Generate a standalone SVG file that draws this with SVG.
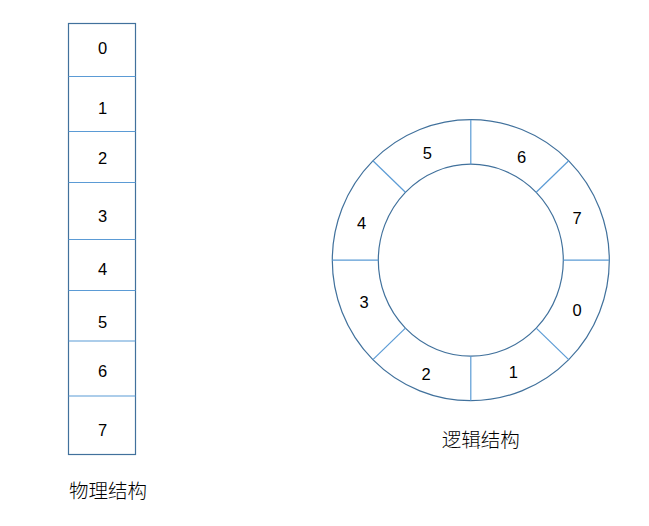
<svg xmlns="http://www.w3.org/2000/svg" width="649" height="526" viewBox="0 0 649 526">
<style>
.num{font-family:"Liberation Sans",Arial,sans-serif;font-size:16.5px;fill:#000;text-anchor:middle}
.lbl{font-family:"Noto Sans CJK SC","Liberation Sans",sans-serif;font-size:19.5px;font-weight:300;fill:#000;text-anchor:middle}
.outl{fill:none;stroke:#41719C;stroke-width:1.2}
.div{fill:none;stroke:#5B9BD5;stroke-width:1.2}
</style>
<rect width="649" height="526" fill="#fff"/>
<g id="physical">
<rect class="outl" x="68.5" y="23.5" width="67" height="431"/>
<g class="div-lines">
<line class="div" x1="68.5" y1="76.5" x2="135.5" y2="76.5"/>
<line class="div" x1="68.5" y1="131.5" x2="135.5" y2="131.5"/>
<line class="div" x1="68.5" y1="182.5" x2="135.5" y2="182.5"/>
<line class="div" x1="68.5" y1="239.5" x2="135.5" y2="239.5"/>
<line class="div" x1="68.5" y1="290.5" x2="135.5" y2="290.5"/>
<line class="div" x1="68.5" y1="341" x2="135.5" y2="341"/>
<line class="div" x1="68.5" y1="396" x2="135.5" y2="396"/>
</g>
<text class="num" x="102.5" y="53.5">0</text>
<text class="num" x="102.5" y="114.2">1</text>
<text class="num" x="102.5" y="164.2">2</text>
<text class="num" x="102.5" y="221.6">3</text>
<text class="num" x="102.5" y="274.9">4</text>
<text class="num" x="102.5" y="327.6">5</text>
<text class="num" x="102.5" y="376.6">6</text>
<text class="num" x="102.5" y="435.9">7</text>
<text class="lbl" x="108" y="497.5">物理结构</text>
</g>
<g id="logical">
<ellipse class="outl" cx="470.8" cy="260.2" rx="138.5" ry="140.5"/>
<ellipse class="outl" cx="470.8" cy="260.2" rx="92.5" ry="96"/>
<line class="div" x1="470.8" y1="119.7" x2="470.8" y2="164.2"/>
<line class="div" x1="470.8" y1="356.2" x2="470.8" y2="400.7"/>
<line class="div" x1="332.3" y1="260.2" x2="378.3" y2="260.2"/>
<line class="div" x1="563.3" y1="260.2" x2="609.3" y2="260.2"/>
<line class="div" x1="372.9" y1="160.8" x2="405.4" y2="192.3"/>
<line class="div" x1="568.7" y1="160.8" x2="536.2" y2="192.3"/>
<line class="div" x1="372.9" y1="359.6" x2="405.4" y2="328.1"/>
<line class="div" x1="568.7" y1="359.6" x2="536.2" y2="328.1"/>
<text class="num" x="427.3" y="158.6">5</text>
<text class="num" x="521.7" y="162.6">6</text>
<text class="num" x="577" y="223.9">7</text>
<text class="num" x="361.7" y="228.9">4</text>
<text class="num" x="364" y="307.9">3</text>
<text class="num" x="577" y="315.9">0</text>
<text class="num" x="513.3" y="377.9">1</text>
<text class="num" x="426" y="379.9">2</text>
<text class="lbl" x="480.8" y="446.5">逻辑结构</text>
</g>
</svg>
